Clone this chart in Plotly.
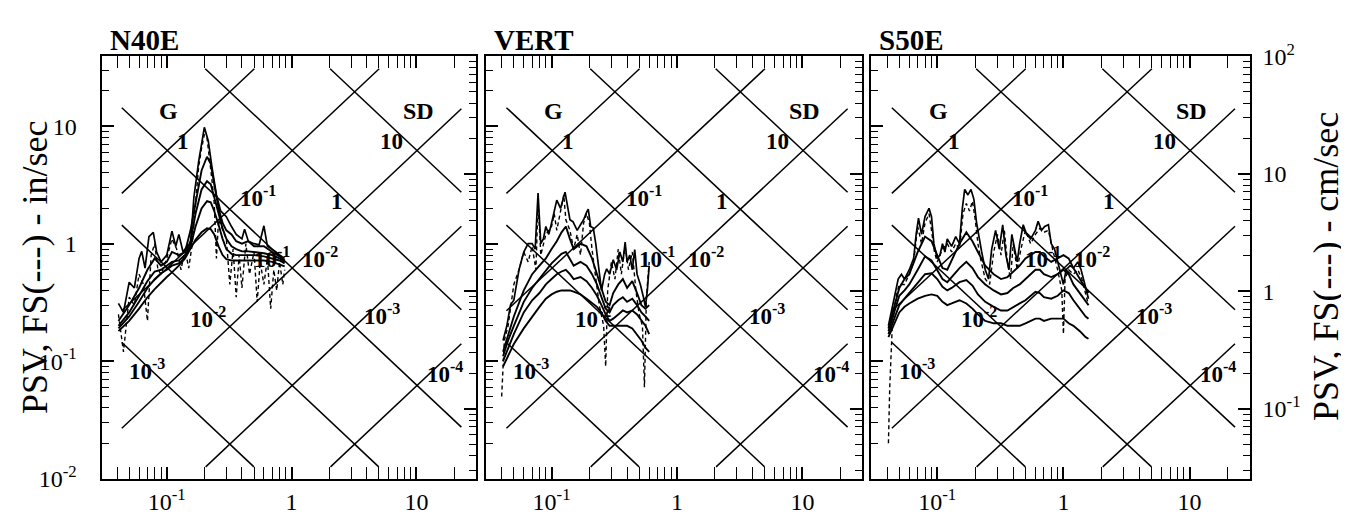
import numpy as np
import plotly.graph_objects as go

W, H = 1349, 514

# ---------------- data ----------------
panel_titles = ["N40E", "VERT", "S50E"]
x_tick_vals = [0.1, 1, 10]
x_tick_text = ["10<sup>-1</sup>", "1", "10"]
y_in_tick_vals = [0.01, 0.1, 1, 10]
y_in_tick_text = ["10<sup>-2</sup>", "10<sup>-1</sup>", "1", "10"]
y_cm_tick_vals = [0.1, 1, 10, 100]
y_cm_tick_text = ["10<sup>-1</sup>", "1", "10", "10<sup>2</sup>"]

g_levels = [1, 1e-1, 1e-2, 1e-3, 1e-4]          # spectral acceleration, g
sd_levels = [10, 1, 1e-1, 1e-2, 1e-3]           # spectral displacement, in
damping_pct = [2, 5, 10, 20]

# label texts and positions (period s, PSV in/s)
grid_label_text = ["1", "10<sup>-1</sup>", "10<sup>-2</sup>", "10<sup>-3</sup>",
                   "10", "1", "10<sup>-1</sup>", "10<sup>-2</sup>", "10<sup>-3</sup>", "10<sup>-4</sup>"]
grid_label_T = [0.136, 0.541, 0.215, 0.069, 6.31, 2.29, 0.692, 1.69, 5.25, 16.9]
grid_label_v = [7.43, 2.52, 0.234, 0.0847, 7.43, 2.30, 0.757, 0.757, 0.249, 0.0796]
family_label_text = ["G", "SD"]
family_label_T = [0.103, 10.3]
family_label_v = [13.4, 13.4]

# ---- N40E ----
n40e_t0 = [0.041, 0.045, 0.05, 0.055, 0.06, 0.063, 0.067, 0.072, 0.078, 0.083, 0.09, 0.1, 0.11, 0.118,
           0.125, 0.135, 0.145, 0.155, 0.165, 0.18, 0.2, 0.215, 0.23, 0.25, 0.27, 0.3, 0.33, 0.36, 0.4,
           0.42, 0.45, 0.5, 0.55, 0.6, 0.64, 0.7, 0.75, 0.8, 0.88]
n40e_v0 = [0.31, 0.26, 0.47, 0.42, 0.75, 0.86, 0.62, 1.15, 1.25, 0.85, 0.7, 0.8, 1.28, 0.95,
           1.2, 0.85, 0.95, 1.0, 2.5, 5.0, 9.8, 7.5, 4.5, 2.6, 1.9, 1.7, 1.4, 1.2, 1.1,
           1.33, 1.05, 1.0, 0.98, 1.42, 0.95, 0.9, 0.85, 0.8, 0.75]
n40e_t = [0.041, 0.05, 0.06, 0.07, 0.08, 0.09, 0.1, 0.11, 0.125, 0.14, 0.155, 0.17, 0.19, 0.21, 0.225,
          0.24, 0.26, 0.28, 0.3, 0.33, 0.36, 0.4, 0.45, 0.5, 0.6, 0.7, 0.8, 0.88]
n40e_v2 = [0.22, 0.3, 0.42, 0.6, 0.75, 0.65, 0.7, 0.85, 0.8, 0.85, 1.3, 2.3, 4.2, 5.5, 4.8,
           3.2, 2.0, 1.5, 1.3, 1.2, 1.05, 1.0, 1.05, 0.95, 0.95, 0.85, 0.78, 0.72]
n40e_v5 = [0.2, 0.26, 0.36, 0.48, 0.58, 0.6, 0.65, 0.7, 0.72, 0.8, 1.05, 1.8, 2.9, 3.4, 3.2,
           2.5, 1.8, 1.35, 1.1, 0.95, 0.9, 0.86, 0.86, 0.85, 0.83, 0.8, 0.75, 0.7]
n40e_v10 = [0.19, 0.24, 0.32, 0.42, 0.5, 0.56, 0.6, 0.65, 0.68, 0.76, 0.95, 1.4, 2.0, 2.3, 2.25,
            1.9, 1.45, 1.1, 0.9, 0.82, 0.8, 0.8, 0.8, 0.8, 0.78, 0.75, 0.72, 0.68]
n40e_v20 = [0.18, 0.22, 0.28, 0.35, 0.41, 0.47, 0.52, 0.57, 0.65, 0.75, 0.9, 1.08, 1.25, 1.35, 1.33,
            1.2, 0.95, 0.8, 0.74, 0.72, 0.72, 0.72, 0.72, 0.72, 0.72, 0.7, 0.67, 0.64]
n40e_tfs = [0.041, 0.045, 0.05, 0.055, 0.06, 0.065, 0.07, 0.075, 0.08, 0.085, 0.09, 0.1, 0.11, 0.12, 0.13,
            0.14, 0.15, 0.16, 0.17, 0.18, 0.19, 0.2, 0.21, 0.22, 0.23, 0.24, 0.25, 0.26, 0.28, 0.3, 0.32,
            0.34, 0.36, 0.38, 0.4, 0.43, 0.46, 0.5, 0.53, 0.56, 0.6, 0.64, 0.68, 0.72, 0.76, 0.8, 0.85, 0.88]
n40e_vfs = [0.25, 0.12, 0.35, 0.3, 0.55, 0.45, 0.22, 0.8, 1.0, 0.6, 0.55, 0.75, 1.1, 0.9, 0.6,
            0.9, 0.62, 1.0, 2.2, 4.5, 6.5, 8.5, 8.0, 5.5, 3.5, 2.2, 0.75, 1.6, 1.3, 1.1, 0.45,
            0.9, 0.35, 0.8, 0.42, 1.0, 0.55, 0.85, 0.32, 0.7, 0.45, 0.75, 0.28, 0.6, 0.4, 0.7, 0.45, 0.6]

# ---- VERT ----
vert_t0 = [0.041, 0.044, 0.047, 0.05, 0.055, 0.06, 0.065, 0.07, 0.074, 0.078, 0.082, 0.086, 0.09, 0.095,
           0.1, 0.105, 0.11, 0.118, 0.124, 0.128, 0.135, 0.14, 0.148, 0.16, 0.17, 0.18, 0.19, 0.196,
           0.205, 0.215, 0.225, 0.25, 0.265, 0.275, 0.29, 0.31, 0.33, 0.35, 0.37, 0.386, 0.4, 0.42,
           0.44, 0.46, 0.48, 0.51, 0.54, 0.56, 0.58, 0.6]
vert_v0 = [0.15, 0.2, 0.3, 0.33, 0.6, 0.85, 1.0, 1.0, 0.9, 2.7, 1.0, 1.1, 1.4, 1.2,
           1.5, 1.9, 2.35, 2.0, 2.5, 2.75, 2.0, 1.6, 1.54, 1.3, 1.45, 1.6, 1.85, 1.97,
           1.4, 1.36, 1.0, 0.4, 0.55, 0.61, 0.55, 0.73, 0.6, 0.85, 0.7, 1.03, 0.7, 0.8,
           0.6, 0.89, 0.55, 0.45, 0.35, 0.29, 0.4, 0.65]
vert_t = [0.041, 0.045, 0.05, 0.06, 0.07, 0.08, 0.09, 0.1, 0.11, 0.12, 0.13, 0.14, 0.15, 0.17, 0.19,
          0.21, 0.23, 0.25, 0.27, 0.29, 0.31, 0.34, 0.37, 0.4, 0.44, 0.48, 0.52, 0.56, 0.6]
vert_v2 = [0.12, 0.17, 0.24, 0.4, 0.55, 0.65, 0.75, 0.9, 1.05, 1.25, 1.4, 1.1, 0.9, 1.0, 0.95,
           0.75, 0.55, 0.4, 0.32, 0.3, 0.38, 0.45, 0.5, 0.42, 0.48, 0.38, 0.3, 0.28, 0.3]
vert_v5 = [0.11, 0.15, 0.2, 0.32, 0.42, 0.5, 0.58, 0.68, 0.75, 0.82, 0.85, 0.75, 0.65, 0.7, 0.65,
           0.55, 0.45, 0.35, 0.28, 0.26, 0.3, 0.33, 0.35, 0.32, 0.34, 0.3, 0.26, 0.24, 0.22]
vert_v10 = [0.1, 0.13, 0.17, 0.26, 0.33, 0.38, 0.45, 0.5, 0.55, 0.58, 0.6, 0.55, 0.5, 0.52, 0.48,
            0.42, 0.36, 0.3, 0.25, 0.22, 0.23, 0.25, 0.27, 0.26, 0.27, 0.25, 0.22, 0.2, 0.17]
vert_v20 = [0.09, 0.11, 0.14, 0.19, 0.24, 0.29, 0.34, 0.37, 0.39, 0.4, 0.4, 0.4, 0.39, 0.37, 0.34,
            0.31, 0.29, 0.26, 0.22, 0.2, 0.2, 0.2, 0.2, 0.2, 0.19, 0.17, 0.15, 0.13, 0.12]
vert_tfs = [0.04, 0.042, 0.045, 0.05, 0.055, 0.06, 0.065, 0.07, 0.075, 0.078, 0.082, 0.09, 0.1, 0.105,
            0.11, 0.12, 0.125, 0.13, 0.14, 0.15, 0.16, 0.17, 0.18, 0.19, 0.2, 0.21, 0.22, 0.24, 0.26,
            0.27, 0.28, 0.3, 0.32, 0.34, 0.36, 0.385, 0.41, 0.44, 0.47, 0.5, 0.53, 0.55, 0.57, 0.6]
vert_vfs = [0.05, 0.15, 0.2, 0.45, 0.6, 0.85, 0.7, 0.95, 0.6, 2.3, 0.8, 1.2, 1.4, 1.8,
            1.3, 2.2, 2.6, 1.6, 1.3, 0.9, 1.2, 0.8, 1.5, 1.8, 1.5, 0.9, 0.6, 0.3, 0.2,
            0.09, 0.4, 0.7, 0.5, 0.9, 0.55, 0.95, 0.6, 0.85, 0.4, 0.25, 0.2, 0.06, 0.35, 0.7]

# ---- S50E ----
s50e_t0 = [0.041, 0.045, 0.049, 0.052, 0.055, 0.06, 0.065, 0.068, 0.071, 0.075, 0.08, 0.086, 0.09, 0.094,
           0.1, 0.105, 0.11, 0.115, 0.12, 0.13, 0.14, 0.15, 0.158, 0.165, 0.175, 0.185, 0.195, 0.205,
           0.215, 0.225, 0.24, 0.255, 0.27, 0.29, 0.31, 0.33, 0.35, 0.37, 0.39, 0.41, 0.43, 0.45, 0.48,
           0.51, 0.55, 0.6, 0.63, 0.67, 0.71, 0.76, 0.8, 0.85, 0.9, 0.95, 1.0, 1.05, 1.13, 1.2, 1.3,
           1.38, 1.45, 1.52, 1.58]
s50e_v0 = [0.2, 0.32, 0.5, 0.55, 0.5, 0.6, 0.75, 1.2, 1.65, 1.2, 1.7, 2.0, 1.7, 1.0,
           0.75, 0.8, 1.0, 0.85, 1.1, 0.95, 1.15, 1.0, 2.0, 2.9, 2.6, 2.9, 2.4, 1.5,
           1.1, 0.85, 0.6, 0.5, 0.9, 1.3, 0.9, 1.45, 0.8, 0.6, 1.2, 0.9, 0.7, 1.0, 1.45,
           1.2, 1.1, 1.3, 1.55, 1.3, 1.4, 1.45, 1.0, 0.9, 0.7, 0.55, 0.45, 0.6, 0.65, 0.62, 0.7,
           0.6, 0.5, 0.4, 0.34]
s50e_t = [0.041, 0.045, 0.05, 0.055, 0.06, 0.07, 0.08, 0.09, 0.1, 0.11, 0.12, 0.13, 0.15, 0.17, 0.19,
          0.21, 0.24, 0.28, 0.32, 0.36, 0.4, 0.45, 0.5, 0.55, 0.6, 0.65, 0.7, 0.8, 0.9, 1.0, 1.1, 1.2,
          1.35, 1.5, 1.58]
s50e_v2 = [0.19, 0.28, 0.42, 0.5, 0.55, 0.85, 1.15, 1.05, 0.8, 0.62, 0.6, 0.72, 1.0, 1.25, 1.05,
           0.85, 0.65, 0.55, 0.5, 0.52, 0.58, 0.65, 0.75, 0.8, 0.85, 0.85, 0.78, 0.7, 0.75, 0.8, 0.75, 0.62,
           0.5, 0.42, 0.38]
s50e_v5 = [0.18, 0.25, 0.36, 0.4, 0.45, 0.6, 0.78, 0.72, 0.6, 0.5, 0.47, 0.52, 0.62, 0.7, 0.62,
           0.52, 0.45, 0.4, 0.37, 0.38, 0.42, 0.45, 0.5, 0.55, 0.6, 0.6, 0.55, 0.52, 0.55, 0.6, 0.55, 0.45,
           0.38, 0.32, 0.3]
s50e_v10 = [0.17, 0.22, 0.3, 0.34, 0.38, 0.46, 0.55, 0.56, 0.5, 0.43, 0.4, 0.42, 0.47, 0.49, 0.44,
            0.37, 0.32, 0.29, 0.27, 0.27, 0.29, 0.31, 0.33, 0.36, 0.39, 0.38, 0.35, 0.34, 0.36, 0.4, 0.38, 0.33,
            0.28, 0.24, 0.23]
s50e_v20 = [0.16, 0.2, 0.26, 0.29, 0.31, 0.34, 0.36, 0.37, 0.36, 0.32, 0.3, 0.31, 0.33, 0.31, 0.28,
            0.25, 0.22, 0.21, 0.21, 0.2, 0.2, 0.2, 0.21, 0.22, 0.23, 0.23, 0.22, 0.23, 0.23, 0.23, 0.21, 0.2,
            0.18, 0.16, 0.155]
s50e_tfs = [0.041, 0.042, 0.044, 0.047, 0.05, 0.055, 0.06, 0.065, 0.07, 0.075, 0.08, 0.086, 0.09, 0.095,
            0.1, 0.11, 0.12, 0.13, 0.14, 0.15, 0.16, 0.17, 0.18, 0.19, 0.2, 0.21, 0.22, 0.24, 0.26, 0.28,
            0.3, 0.32, 0.34, 0.36, 0.38, 0.4, 0.43, 0.46, 0.5, 0.55, 0.6, 0.65, 0.7, 0.76, 0.82, 0.9,
            0.97, 1.0, 1.03, 1.1, 1.2, 1.3, 1.4, 1.5, 1.58]
s50e_vfs = [0.02, 0.06, 0.2, 0.35, 0.45, 0.45, 0.55, 0.7, 1.4, 1.0, 1.5, 1.8, 1.3, 0.85,
            0.7, 0.9, 1.0, 0.85, 1.0, 0.9, 1.8, 2.2, 1.9, 2.3, 1.6, 1.0, 0.75, 0.5, 0.45, 0.85,
            1.2, 0.8, 1.3, 0.7, 0.5, 1.0, 0.6, 0.9, 1.3, 1.0, 1.2, 1.35, 1.25, 1.3, 0.9, 0.6,
            0.4, 0.17, 0.5, 0.6, 0.55, 0.6, 0.5, 0.38, 0.3]

panels = [
    dict(t0=n40e_t0, v0=n40e_v0, t=n40e_t, v2=n40e_v2, v5=n40e_v5, v10=n40e_v10, v20=n40e_v20,
         tfs=n40e_tfs, vfs=n40e_vfs),
    dict(t0=vert_t0, v0=vert_v0, t=vert_t, v2=vert_v2, v5=vert_v5, v10=vert_v10, v20=vert_v20,
         tfs=vert_tfs, vfs=vert_vfs),
    dict(t0=s50e_t0, v0=s50e_v0, t=s50e_t, v2=s50e_v2, v5=s50e_v5, v10=s50e_v10, v20=s50e_v20,
         tfs=s50e_tfs, vfs=s50e_vfs),
]

# ---------------- constants ----------------
T_RANGE = (0.03, 30.0)
V_RANGE = (0.01, 39.37)          # in/s; top = 100 cm/s
CM_PER_IN = 2.54
G_IN = 386.09                    # in/s^2 per g
CLIP_T = (10 ** -1.36, 10 ** 1.36)
CLIP_V = (10 ** -1.90, 10 ** 1.49)

x_domains = [(93.5 / W, 468.0 / W), (478.0 / W, 854.3 / W), (863.3 / W, 1241.8 / W)]
y_domain = (1 - 481.7 / H, 1 - 33.3 / H)

FONT = "Liberation Serif, Times New Roman, serif"


def clip_segment(a, s):
    x0, x1 = np.log10(CLIP_T)
    y0, y1 = np.log10(CLIP_V)
    if s > 0:
        lo, hi = max(x0, y0 - a), min(x1, y1 - a)
    else:
        lo, hi = max(x0, a - y1), min(x1, a - y0)
    xs = np.array([lo, hi])
    return 10 ** xs, 10 ** (a + s * xs)


def minor_vals(lo, hi):
    out = []
    for e in range(-4, 4):
        for d in range(2, 10):
            v = d * 10.0 ** e
            if lo < v < hi:
                out.append(v)
    return out


fig = go.Figure()

for i, p in enumerate(panels):
    xr = "x" if i == 0 else f"x{i + 1}"
    yl = "y" if i == 0 else f"y{i + 1}"
    yr = f"y{i + 4}"

    # tripartite grid
    for g in g_levels:
        xs, ys = clip_segment(np.log10(g * G_IN / (2 * np.pi)), +1)
        fig.add_trace(go.Scatter(x=xs, y=ys, xaxis=xr, yaxis=yl, mode="lines",
                                 line=dict(color="black", width=1.5), showlegend=False, hoverinfo="skip"))
    for sd in sd_levels:
        xs, ys = clip_segment(np.log10(2 * np.pi * sd), -1)
        fig.add_trace(go.Scatter(x=xs, y=ys, xaxis=xr, yaxis=yl, mode="lines",
                                 line=dict(color="black", width=1.5), showlegend=False, hoverinfo="skip"))

    # spectra
    fig.add_trace(go.Scatter(x=p["tfs"], y=p["vfs"], xaxis=xr, yaxis=yl, mode="lines",
                             line=dict(color="black", width=1.4, dash="4px,3px"),
                             name="FS", showlegend=False))
    fig.add_trace(go.Scatter(x=p["t0"], y=p["v0"], xaxis=xr, yaxis=yl, mode="lines",
                             line=dict(color="black", width=1.7), name="0%", showlegend=False))
    for key, lab in zip(["v2", "v5", "v10", "v20"], damping_pct):
        fig.add_trace(go.Scatter(x=p["t"], y=p[key], xaxis=xr, yaxis=yl, mode="lines",
                                 line=dict(color="black", width=1.9), name=f"{lab}%", showlegend=False))
    # placeholder so the cm/s axis is drawn
    fig.add_trace(go.Scatter(x=[], y=[], xaxis=xr, yaxis=yr, showlegend=False, hoverinfo="skip"))

    tick_common = dict(ticks="inside", tickcolor="black", tickwidth=1.5, showgrid=False, zeroline=False,
                       showline=True, linecolor="black", linewidth=2,
                       tickfont=dict(family=FONT, size=24, color="black"))

    fig.layout[("xaxis" if i == 0 else f"xaxis{i + 1}")] = dict(
        type="log", range=list(np.log10(T_RANGE)), domain=x_domains[i], anchor=yl,
        mirror="allticks", ticklen=12, tickvals=x_tick_vals, ticktext=x_tick_text,
        ticklabelstandoff=1,
        minor=dict(ticks="inside", ticklen=7, tickwidth=1.3, tickcolor="black",
                   tickvals=minor_vals(*T_RANGE), showgrid=False),
        **tick_common)
    fig.layout[("yaxis" if i == 0 else f"yaxis{i + 1}")] = dict(
        type="log", range=list(np.log10(V_RANGE)), domain=y_domain, anchor=xr, side="left",
        ticklen=12, tickvals=y_in_tick_vals, ticktext=y_in_tick_text, showticklabels=(i == 0),
        ticklabelstandoff=18,
        minor=dict(ticks="inside", ticklen=7, tickwidth=1.3, tickcolor="black",
                   tickvals=minor_vals(*V_RANGE), showgrid=False),
        **tick_common)
    cm_range = (V_RANGE[0] * CM_PER_IN, V_RANGE[1] * CM_PER_IN)
    fig.layout[f"yaxis{i + 4}"] = dict(
        type="log", range=list(np.log10(cm_range)), anchor=xr, overlaying=yl, side="right",
        ticklen=12, tickvals=y_cm_tick_vals, ticktext=y_cm_tick_text, showticklabels=(i == 2),
        ticklabelstandoff=6,
        minor=dict(ticks="inside", ticklen=7, tickwidth=1.3, tickcolor="black",
                   tickvals=minor_vals(*cm_range), showgrid=False),
        **tick_common)

    # grid labels
    for txt, tt, vv in zip(grid_label_text, grid_label_T, grid_label_v):
        fig.add_annotation(x=np.log10(tt), y=np.log10(vv), xref=xr, yref=yl, text=f"<b>{txt}</b>",
                           showarrow=False, xanchor="center", yanchor="middle",
                           font=dict(family=FONT, size=23, color="black"))
    for txt, tt, vv in zip(family_label_text, family_label_T, family_label_v):
        fig.add_annotation(x=np.log10(tt), y=np.log10(vv), xref=xr, yref=yl, text=f"<b>{txt}</b>",
                           showarrow=False, xanchor="center", yanchor="middle",
                           font=dict(family=FONT, size=24, color="black"))
    # panel title
    fig.add_annotation(x=x_domains[i][0] + 6 / W, y=1 - 16 / H, xref="paper", yref="paper",
                       text=f"<b>{panel_titles[i]}</b>", showarrow=False, xanchor="left", yanchor="middle",
                       font=dict(family=FONT, size=29, color="black"))

# axis titles
fig.add_annotation(x=27 / W, y=1 - 258 / H, xref="paper", yref="paper", text="PSV, FS(---) - in/sec",
                   textangle=-90, showarrow=False, xanchor="center", yanchor="middle",
                   font=dict(family=FONT, size=36, color="black"))
fig.add_annotation(x=1318 / W, y=1 - 257 / H, xref="paper", yref="paper", text="PSV, FS(---) - cm/sec",
                   textangle=-90, showarrow=False, xanchor="center", yanchor="middle",
                   font=dict(family=FONT, size=36, color="black"))

fig.update_layout(width=W, height=H, margin=dict(l=0, r=0, t=0, b=0),
                  paper_bgcolor="white", plot_bgcolor="white", showlegend=False)

fig.write_html("out.html")
